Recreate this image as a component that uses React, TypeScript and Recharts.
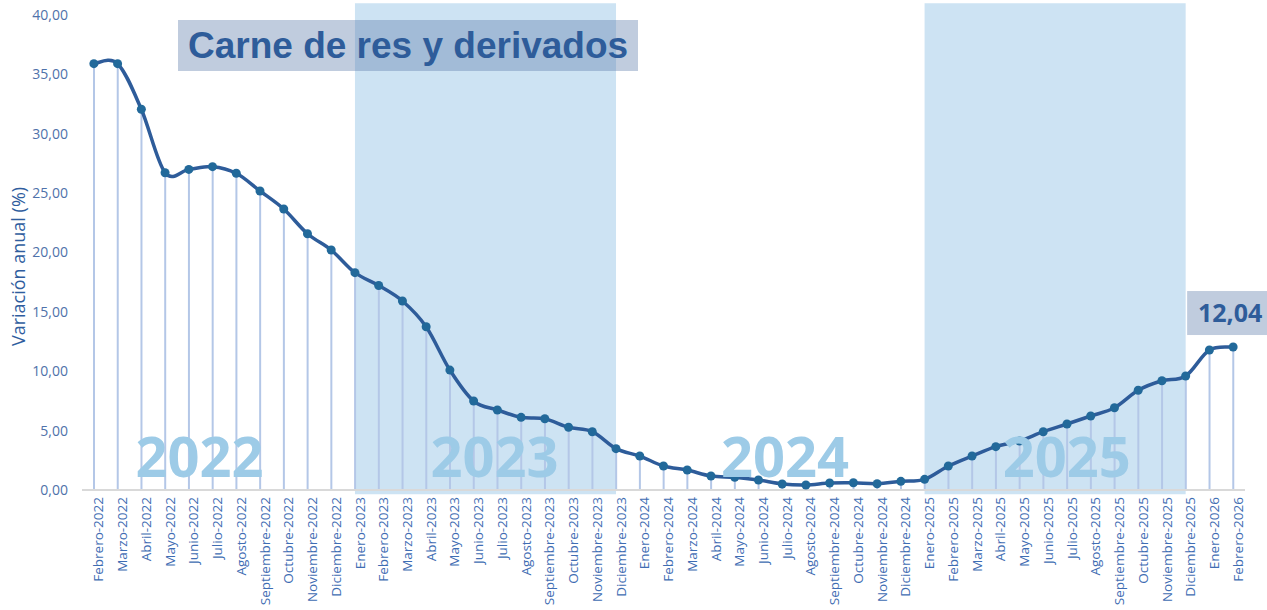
import React from 'react';
import {
  ComposedChart, Line, Bar, XAxis, YAxis, ReferenceArea, ReferenceDot, LabelList,
} from 'recharts';

// Meses (eje X) y variación anual (%)
const months = [
  'Febrero-2022', 'Marzo-2022', 'Abril-2022', 'Mayo-2022', 'Junio-2022', 'Julio-2022',
  'Agosto-2022', 'Septiembre-2022', 'Octubre-2022', 'Noviembre-2022', 'Diciembre-2022',
  'Enero-2023', 'Febrero-2023', 'Marzo-2023', 'Abril-2023', 'Mayo-2023', 'Junio-2023',
  'Julio-2023', 'Agosto-2023', 'Septiembre-2023', 'Octubre-2023', 'Noviembre-2023', 'Diciembre-2023',
  'Enero-2024', 'Febrero-2024', 'Marzo-2024', 'Abril-2024', 'Mayo-2024', 'Junio-2024',
  'Julio-2024', 'Agosto-2024', 'Septiembre-2024', 'Octubre-2024', 'Noviembre-2024', 'Diciembre-2024',
  'Enero-2025', 'Febrero-2025', 'Marzo-2025', 'Abril-2025', 'Mayo-2025', 'Junio-2025',
  'Julio-2025', 'Agosto-2025', 'Septiembre-2025', 'Octubre-2025', 'Noviembre-2025', 'Diciembre-2025',
  'Enero-2026', 'Febrero-2026',
];

const values = [
  35.9, 35.9, 32.06, 26.72, 27.0, 27.23, 26.67, 25.18, 23.66, 21.58, 20.21,
  18.3, 17.22, 15.92, 13.75, 10.1, 7.49, 6.74, 6.12, 6.0, 5.28, 4.91, 3.48,
  2.86, 2.02, 1.68, 1.18, 1.07, 0.84, 0.51, 0.42, 0.59, 0.61, 0.53, 0.73,
  0.9, 2.02, 2.86, 3.65, 4.13, 4.91, 5.56, 6.23, 6.93, 8.4, 9.2, 9.6,
  11.79, 12.04,
];

const yTicks = [0, 5, 10, 15, 20, 25, 30, 35, 40];

// años sombreados (inicio / fin)
const shadedYears = [
  ['Enero-2023', 'Diciembre-2023'],
  ['Enero-2025', 'Diciembre-2025'],
];

// rótulos grandes de año, centrados en posición del eje (índice de mes)
const yearLabels = ['2022', '2023', '2024', '2025'];
const yearLabelAt = [4.45, 16.88, 29.12, 40.99];

const data = months.map((m, i) => ({ idx: i, mes: m, valor: values[i] }));
const fmt = (v: number) => v.toFixed(2).replace('.', ',');

// suavizado tipo Excel (Catmull-Rom)
const smoothCurve = (context: any) => {
  let pts: number[][] = [];
  return {
    areaStart() {},
    areaEnd() {},
    lineStart() { pts = []; },
    point(x: number, y: number) { pts.push([+x, +y]); },
    lineEnd() {
      if (!pts.length) return;
      context.moveTo(pts[0][0], pts[0][1]);
      for (let i = 0; i < pts.length - 1; i++) {
        const p0 = pts[i - 1] || pts[i];
        const p1 = pts[i];
        const p2 = pts[i + 1];
        const p3 = pts[i + 2] || p2;
        context.bezierCurveTo(
          p1[0] + (p2[0] - p0[0]) / 6, p1[1] + (p2[1] - p0[1]) / 6,
          p2[0] - (p3[0] - p1[0]) / 6, p2[1] - (p3[1] - p1[1]) / 6,
          p2[0], p2[1],
        );
      }
    },
  };
};

const LastValueLabel = (props: any) => {
  const { x, y, value, index } = props;
  if (index !== values.length - 1) return null;
  return (
    <g>
      <rect x={x - 46} y={y - 56} width={90} height={44} fill="rgba(98,128,173,0.4)" />
      <text x={x - 3} y={y - 25} textAnchor="middle" fill="#2e5c9a"
        style={{ fontFamily: '"Open Sans", sans-serif', fontWeight: 700, fontSize: 25 }}>
        {fmt(value)}
      </text>
    </g>
  );
};

const YearText = (label: string) => (props: any) => (
  <text x={props.cx} y={props.cy} textAnchor="middle" fill="#9dcbe7"
    style={{ fontFamily: '"Open Sans", sans-serif', fontWeight: 700, fontSize: 56 }}>
    {label}
  </text>
);

export default function App() {
  return (
    <div style={{ position: 'absolute', left: 0, top: 0, width: 1267, height: 610, background: '#fff' }}>
      <ComposedChart width={1267} height={610} data={data}
        margin={{ top: 15, right: 22, left: 0, bottom: 0 }}>
        {shadedYears.map(([a, b]) => (
          <ReferenceArea key={a} x1={months.indexOf(a)} x2={months.indexOf(b)} y1={-0.35} y2={41}
            ifOverflow="visible" fill="#cde3f3" fillOpacity={1} stroke="none" zIndex={-50} />
        ))}
        <XAxis dataKey="idx" type="number" domain={[-0.5, months.length - 0.5]}
          ticks={months.map((_, i) => i)} interval={0} tickFormatter={(i: number) => months[i]}
          angle={-90} textAnchor="end" tickLine={false} tickSize={0} tickMargin={7} height={120}
          axisLine={{ stroke: '#d9d9d9', strokeWidth: 2 }}
          tick={{ fill: '#3f6db3', fontSize: 13.5, fontFamily: '"Open Sans", sans-serif' }} />
        <YAxis domain={[0, 40]} ticks={yTicks} tickFormatter={fmt} width={82}
          axisLine={false} tickLine={false} tickSize={0} tickMargin={14}
          tick={{ fill: '#4f72aa', fontSize: 14, fontFamily: '"Open Sans", sans-serif' }}
          label={{
            value: 'Variación anual (%)', angle: -90, position: 'center', dx: -22, dy: 14,
            style: { fill: '#2f5d9e', fontSize: 18, fontFamily: '"Open Sans", sans-serif' },
          }} />
        <Bar dataKey="valor" barSize={2} fill="#b4c7e7" isAnimationActive={false} />
        <Line dataKey="valor" type={smoothCurve as any} stroke="#2e5c9a" strokeWidth={3.5}
          dot={{ r: 4.5, fill: '#22699a', stroke: 'none' }} isAnimationActive={false}>
          <LabelList dataKey="valor" content={LastValueLabel} />
        </Line>
        {yearLabels.map((y, i) => (
          <ReferenceDot key={y} x={yearLabelAt[i]} y={1.09} r={1} shape={YearText(y)} zIndex={1500} />
        ))}
      </ComposedChart>
      <div style={{
        position: 'absolute', left: 178, top: 20, width: 460, height: 51,
        background: 'rgba(98,128,173,0.4)', color: '#2e5c9a',
        fontFamily: '"Liberation Sans", Arial, sans-serif', fontWeight: 700, fontSize: 37,
        lineHeight: '51px', paddingLeft: 10, boxSizing: 'border-box', whiteSpace: 'nowrap',
      }}>
        Carne de res y derivados
      </div>
    </div>
  );
}
